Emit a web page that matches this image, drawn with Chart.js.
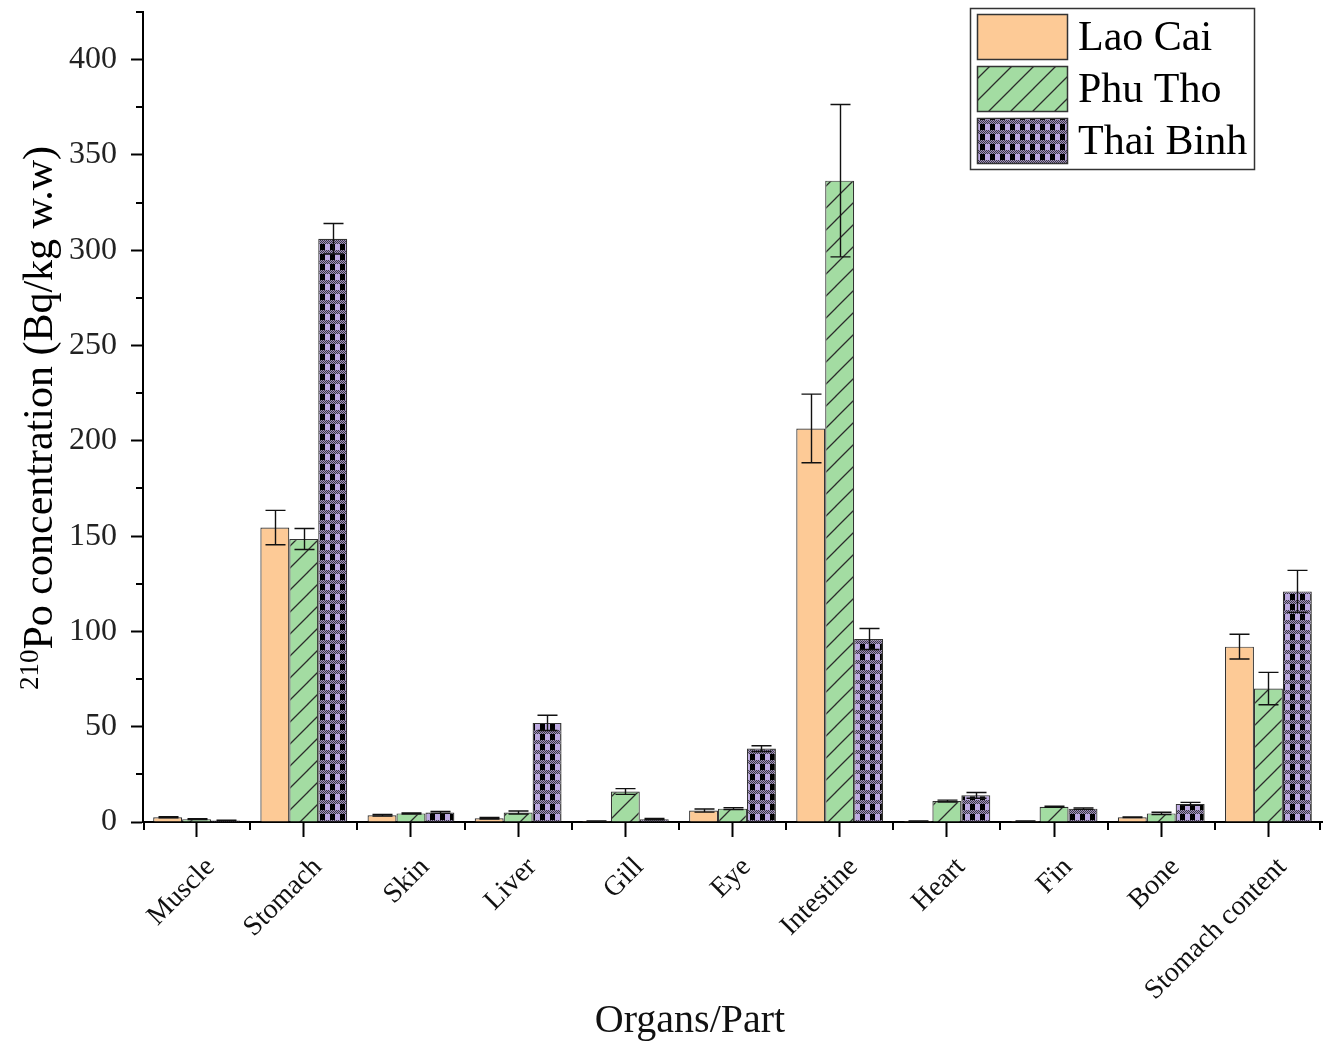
<!DOCTYPE html>
<html>
<head>
<meta charset="utf-8">
<script src="https://cdn.jsdelivr.net/npm/chart.js@4/dist/chart.umd.min.js"></script>
<style>
  html, body { margin: 0; padding: 0; background: #fff; }
  #wrap { width: 1326px; height: 1043px; position: relative; }
</style>
</head>
<body>
<div id="wrap"><canvas id="chart"></canvas></div>
<script>
// ---- data ----
const organs = ['Muscle', 'Stomach', 'Skin', 'Liver', 'Gill', 'Eye', 'Intestine', 'Heart', 'Fin', 'Bone', 'Stomach content'];
const seriesNames = ['Lao Cai', 'Phu Tho', 'Thai Binh'];

const laoCai   = [2.5, 154.5, 3.5, 2.0, 0.5, 6.0, 206.5, 0.5, 0.5, 2.5, 92.0];
const phuTho   = [1.5, 148.5, 4.5, 5.0, 16.0, 7.0, 336.5, 11.0, 8.0, 4.5, 70.0];
const thaiBinh = [0.8, 306.0, 5.0, 52.0, 1.5, 38.5, 96.0, 14.0, 7.0, 9.5, 121.0];

const laoCaiErr   = [0.3, 9.0, 0.4, 0.4, 0.1, 0.8, 18.0, 0.1, 0.1, 0.2, 6.5];
const phuThoErr   = [0.2, 5.5, 0.3, 0.8, 1.5, 0.5, 40.0, 0.5, 0.3, 0.6, 8.5];
const thaiBinhErr = [0.1, 8.0, 0.5, 4.0, 0.3, 1.5, 5.5, 1.5, 0.4, 0.8, 11.0];

const yTicks = [0, 50, 100, 150, 200, 250, 300, 350, 400];
const yMinorTicks = [25, 75, 125, 175, 225, 275, 325, 375, 425];

// ---- fill patterns ----
function hatchPattern() {
    const c = document.createElement('canvas');
    c.width = 22; c.height = 22;
    const g = c.getContext('2d');
    g.fillStyle = '#a3dca2';
    g.fillRect(0, 0, 22, 22);
    g.strokeStyle = '#2b2b2b';
    g.lineWidth = 1.3;
    g.beginPath();
    g.moveTo(-2, 24); g.lineTo(24, -2);
    g.moveTo(-13, 13); g.lineTo(13, -13);
    g.moveTo(9, 35); g.lineTo(35, 9);
    g.stroke();
    return g.createPattern(c, 'repeat');
}

function checkPattern() {
    const c = document.createElement('canvas');
    c.width = 10; c.height = 10;
    const g = c.getContext('2d');
    g.fillStyle = '#bca9e0';
    g.fillRect(0, 0, 10, 10);
    // mottled band between rows
    for (let y = 0; y < 4; y++) {
        for (let x = 0; x < 10; x++) {
            g.fillStyle = ((x + y) % 2 === 0) ? '#3c3548' : '#a395bd';
            g.fillRect(x, y, 1, 1);
        }
    }
    g.fillStyle = '#000';
    g.fillRect(0, 4, 5, 6);
    return g.createPattern(c, 'repeat');
}

const fillLao = '#fdca96';
const fillPhu = hatchPattern();
const fillThai = checkPattern();

// ---- plugin: error bars, minor ticks, titles, legend ----
const errs = [laoCaiErr, phuThoErr, thaiBinhErr];

const extras = {
    id: 'extras',
    afterDatasetsDraw(chart) {
        const ctx = chart.ctx;
        const ys = chart.scales.y;
        ctx.save();
        ctx.strokeStyle = '#111';
        ctx.lineWidth = 1.4;
        chart.data.datasets.forEach((ds, di) => {
            const meta = chart.getDatasetMeta(di);
            meta.data.forEach((bar, i) => {
                const v = ds.data[i], e = errs[di][i];
                const x = Math.round(bar.x) + 0.5;
                const yt = ys.getPixelForValue(v + e);
                const yb = ys.getPixelForValue(v - e);
                ctx.beginPath();
                ctx.moveTo(x, yt); ctx.lineTo(x, yb);
                ctx.moveTo(x - 10, yt); ctx.lineTo(x + 10, yt);
                ctx.moveTo(x - 10, yb); ctx.lineTo(x + 10, yb);
                ctx.stroke();
            });
        });
        ctx.restore();
    },
    afterDraw(chart) {
        const ctx = chart.ctx;
        const ys = chart.scales.y, xs = chart.scales.x;
        const area = chart.chartArea;
        ctx.save();
        ctx.strokeStyle = '#000';
        ctx.lineWidth = 2;
        // minor y ticks
        ctx.beginPath();
        yMinorTicks.forEach(v => {
            const y = Math.round(ys.getPixelForValue(v));
            ctx.moveTo(area.left, y); ctx.lineTo(area.left - 7, y);
        });
        // minor x ticks at category boundaries
        for (let i = 0; i <= organs.length; i++) {
            let x;
            if (i === 0) x = area.left + 1;
            else if (i === organs.length) x = area.right - 2;
            else x = (xs.getPixelForValue(i - 1) + xs.getPixelForValue(i)) / 2;
            x = Math.round(x);
            ctx.moveTo(x, area.bottom); ctx.lineTo(x, area.bottom + 8);
        }
        ctx.stroke();

        // x axis title
        ctx.fillStyle = '#111';
        ctx.font = '40px "Liberation Serif"';
        ctx.textAlign = 'center';
        ctx.textBaseline = 'alphabetic';
        ctx.fillText('Organs/Part', 690, 1032);

        // y axis title with superscript
        ctx.fillStyle = '#000';
        ctx.translate(38, 418);
        ctx.rotate(-Math.PI / 2);
        const supFont = '27px "Liberation Serif"';
        const mainFont = '42px "Liberation Serif"';
        const sup = '210', main = 'Po concentration (Bq/kg w.w)';
        ctx.font = supFont;
        const wSup = ctx.measureText(sup).width;
        ctx.font = mainFont;
        const wMain = ctx.measureText(main).width;
        const start = -(wSup + wMain) / 2;
        ctx.textAlign = 'left';
        ctx.font = supFont;
        ctx.fillText(sup, start, 0);
        ctx.font = mainFont;
        ctx.fillText(main, start + wSup, 14);
        ctx.setTransform(1, 0, 0, 1, 0, 0);

        // legend
        const fills = [fillLao, fillPhu, fillThai];
        ctx.lineWidth = 1.5;
        ctx.strokeStyle = '#333';
        ctx.fillStyle = '#fff';
        ctx.fillRect(970, 8, 285, 162);
        ctx.strokeRect(970.5, 8.5, 284, 161);
        ctx.font = '42px "Liberation Serif"';
        ctx.textBaseline = 'middle';
        seriesNames.forEach((name, i) => {
            const top = 14 + i * 52;
            ctx.fillStyle = fills[i];
            ctx.fillRect(977, top, 91, 46);
            ctx.strokeStyle = '#333';
            ctx.strokeRect(977.5, top + 0.5, 90, 45);
            ctx.fillStyle = '#000';
            ctx.fillText(name, 1078, top + 25);
        });
        ctx.restore();
    }
};

new Chart(document.getElementById('chart'), {
    type: 'bar',
    data: {
        labels: organs,
        datasets: [
            { label: seriesNames[0], data: laoCai, backgroundColor: fillLao, borderColor: '#333', borderWidth: 1.2 },
            { label: seriesNames[1], data: phuTho, backgroundColor: fillPhu, borderColor: '#333', borderWidth: 1.2 },
            { label: seriesNames[2], data: thaiBinh, backgroundColor: fillThai, borderColor: '#333', borderWidth: 1.2 }
        ]
    },
    options: {
        responsive: true,
        maintainAspectRatio: false,
        animation: false,
        categoryPercentage: 0.81,
        barPercentage: 1.0,
        layout: { padding: { top: 12, right: 4, left: 0, bottom: 0 } },
        plugins: { legend: { display: false }, tooltip: { enabled: false } },
        scales: {
            x: {
                offset: true,
                afterFit: s => { s.height = 221; },
                grid: { display: true, drawOnChartArea: false, offset: false, tickLength: 15, tickWidth: 2, tickColor: '#000' },
                border: { display: true, color: '#000', width: 2 },
                ticks: {
                    autoSkip: false, maxRotation: 45, minRotation: 45, padding: 14, labelOffset: 14,
                    color: '#111', font: { family: 'Liberation Serif', size: 28 }
                }
            },
            y: {
                min: 0, max: 425,
                afterFit: s => { s.width = 143; s.paddingTop = 0; s.paddingBottom = 0; },
                afterBuildTicks: s => { s.ticks = yTicks.map(v => ({ value: v })); },
                grid: { display: true, drawOnChartArea: false, tickLength: 12, tickWidth: 2, tickColor: '#000' },
                border: { display: true, color: '#000', width: 2 },
                ticks: {
                    padding: 14, color: '#222',
                    font: { family: 'Liberation Serif', size: 32 }
                }
            }
        }
    },
    plugins: [extras]
});
</script>
</body>
</html>
